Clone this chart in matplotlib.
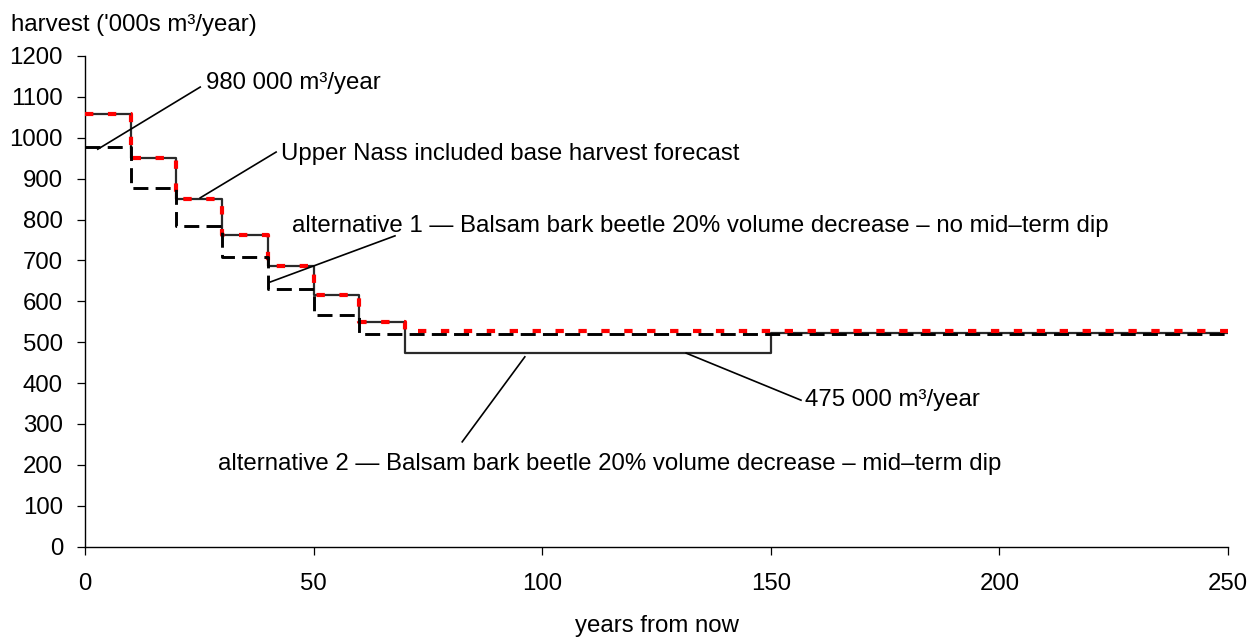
import matplotlib
matplotlib.use('Agg')
from matplotlib import pyplot as plt

plt.rcParams['font.family'] = ['Liberation Sans', 'DejaVu Sans']
plt.rcParams['lines.scale_dashes'] = False

# Base forecast (Upper Nass included) - red dashed
base_edges = [0, 10, 20, 30, 40, 50, 60, 70, 250]
base_vals = [1057, 950, 851, 762, 686, 616, 549, 526]
# Alternative 2 (mid-term dip) - solid
alt2_edges = [0, 10, 20, 30, 40, 50, 60, 70, 150, 250]
alt2_vals = [1057, 950, 851, 762, 686, 616, 549, 474, 523]
# Alternative 1 (no mid-term dip) - black dashed
alt1_edges = [0, 10, 20, 30, 40, 50, 60, 250]
alt1_vals = [977, 878, 785, 708, 629, 566, 520]

x_ticks = [0, 50, 100, 150, 200, 250]
y_ticks = list(range(0, 1300, 100))

# labels: text, text position, leader start, leader end
notes = [
    ('980 000 m³/year', (26.5, 1133), (2.8, 972), (25.2, 1124)),
    ('Upper Nass included base harvest forecast', (42.9, 960), (25.2, 853), (41.8, 965)),
    ('alternative 1 — Balsam bark beetle 20% volume decrease – no mid–term dip',
     (45.3, 784), (40.5, 647), (67.8, 760)),
    ('475 000 m³/year', (157.5, 358), (131.5, 473), (156.6, 358)),
    ('alternative 2 — Balsam bark beetle 20% volume decrease – mid–term dip',
     (29.1, 201), (96.2, 464), (82.5, 256)),
]

FS = 17.3

def steps(edges, vals):
    return edges, list(vals) + [vals[-1]]

fig = plt.figure(figsize=(12.56, 6.39), dpi=100)
ax = fig.add_axes([85 / 1256, 1 - 546.5 / 639, (1228 - 85) / 1256, (546.5 - 56) / 639])

x, y = steps(alt2_edges, alt2_vals)
ax.step(x, y, where='post', color='#2a2a2a', lw=1.6, zorder=2)
x, y = steps(base_edges, base_vals)
ax.step(x, y, where='post', color='red', lw=3.0, dashes=(6, 10.5), dash_capstyle='butt', zorder=3)
x, y = steps(alt1_edges, alt1_vals)
ax.step(x, y, where='post', color='black', lw=2.1, dashes=(10.8, 5.2), dash_capstyle='butt', zorder=4)

for text, pos, p0, p1 in notes:
    ax.plot([p0[0], p1[0]], [p0[1], p1[1]], color='black', lw=1.2, zorder=5)
    ax.text(pos[0], pos[1], text, fontsize=FS, ha='left', va='center')

ax.set_xlim(0, 250)
ax.set_ylim(0, 1200)
ax.set_xticks(x_ticks)
ax.set_yticks(y_ticks)
for side in ['top', 'right']:
    ax.spines[side].set_visible(False)
for side in ['left', 'bottom']:
    ax.spines[side].set_linewidth(1.0)
ax.tick_params(axis='both', which='major', labelsize=FS, length=5.8, width=0.9, direction='out')
ax.tick_params(axis='y', pad=10)
ax.tick_params(axis='x', pad=13)

fig.text(11 / 1256, 1 - 25 / 639, "harvest ('000s m³/year)", fontsize=FS, ha='left', va='center')
fig.text(657 / 1256, 1 - 626 / 639, 'years from now', fontsize=FS, ha='center', va='center')

fig.savefig('out.png', dpi=100)
